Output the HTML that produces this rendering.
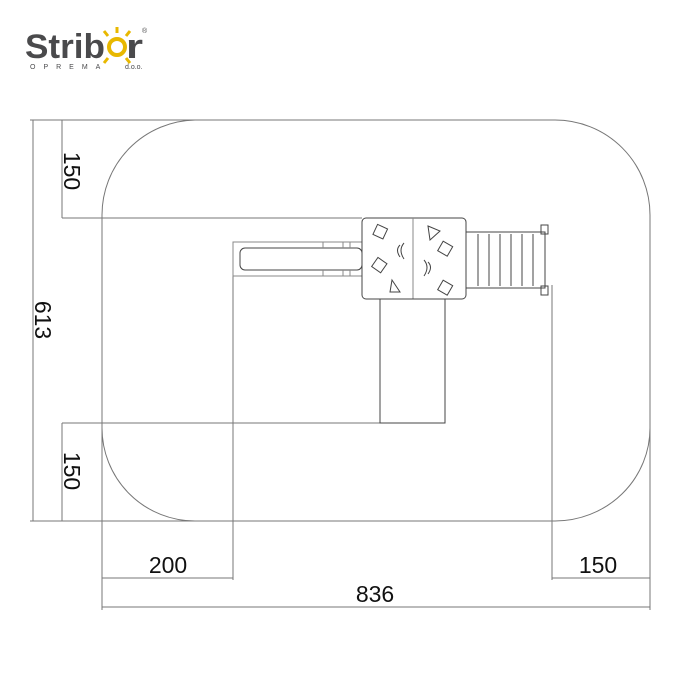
<!DOCTYPE html>
<html><head><meta charset="utf-8"><style>
html,body{margin:0;padding:0;background:#fff;}
svg{display:block;}
text{font-family:"Liberation Sans",sans-serif;}
</style></head><body>
<svg width="679" height="679" viewBox="0 0 679 679" xmlns="http://www.w3.org/2000/svg">
<!-- logo -->
<text x="25" y="58" font-size="34" font-weight="bold" fill="#4a4a4c" textLength="80" lengthAdjust="spacingAndGlyphs">Strib</text>
<circle cx="117" cy="47" r="8" fill="none" stroke="#e8b800" stroke-width="4"/>
<g stroke="#e8b800" stroke-width="3">
<line x1="117" y1="33" x2="117" y2="27"/><line x1="126" y1="36" x2="130" y2="31"/><line x1="108" y1="36" x2="104" y2="31"/>
<line x1="126" y1="58" x2="130" y2="63"/><line x1="108" y1="58" x2="104" y2="63"/>
</g>
<text x="126" y="58" font-size="34" font-weight="bold" fill="#4a4a4c" textLength="17" lengthAdjust="spacingAndGlyphs">r</text>
<text x="142" y="33" font-size="7" fill="#4a4a4c">®</text>
<text x="30" y="69" font-size="7" fill="#4a4a4c" letter-spacing="8">OPREMA</text>
<text x="125" y="69" font-size="7" fill="#4a4a4c">d.o.o.</text>

<g fill="none" stroke="#777" stroke-width="1">
<path d="M195 120 H555 A95 95 0 0 1 650 215 V428 A95 93 0 0 1 555 521 H195 A93 93 0 0 1 102 428 V215 A95 95 0 0 1 195 120 Z"/>
<line x1="30" y1="120" x2="195" y2="120"/>
<line x1="30" y1="521" x2="195" y2="521"/>
<line x1="33" y1="120" x2="33" y2="521"/>
<line x1="62" y1="120" x2="62" y2="218"/>
<line x1="62" y1="218" x2="362" y2="218"/>
<line x1="62" y1="423" x2="62" y2="521"/>
<line x1="62" y1="423" x2="380" y2="423"/>
<line x1="102" y1="400" x2="102" y2="610"/>
<line x1="233" y1="242" x2="233" y2="580"/>
<line x1="552" y1="285" x2="552" y2="580"/>
<line x1="650" y1="400" x2="650" y2="610"/>
<line x1="102" y1="578" x2="233" y2="578"/>
<line x1="552" y1="578" x2="650" y2="578"/>
<line x1="102" y1="607" x2="650" y2="607"/>
</g>
<g font-size="23" fill="#111">
<text x="168" y="573" text-anchor="middle">200</text>
<text x="598" y="573" text-anchor="middle">150</text>
<text x="375" y="602" text-anchor="middle">836</text>
<text transform="translate(64,171) rotate(90)" text-anchor="middle">150</text>
<text transform="translate(35,320) rotate(90)" text-anchor="middle">613</text>
<text transform="translate(64,471) rotate(90)" text-anchor="middle">150</text>
</g>

<g fill="none" stroke="#444" stroke-width="1">
<rect x="233" y="242" width="129" height="34" stroke="#888"/>
<rect x="240" y="248" width="122" height="22" rx="5"/>
<path d="M323 242 v6 M343 242 v6 M350 242 v6 M323 270 v6 M343 270 v6 M350 270 v6" stroke="#888"/>
<rect x="362" y="218" width="104" height="81" rx="4"/>
<line x1="413" y1="218" x2="413" y2="299" stroke="#888"/>
<rect x="380" y="299" width="65" height="124"/>
<rect x="466" y="232" width="79" height="56"/>
<line x1="478" y1="234" x2="478" y2="286"/><line x1="489" y1="234" x2="489" y2="286"/>
<line x1="500" y1="234" x2="500" y2="286"/><line x1="511" y1="234" x2="511" y2="286"/>
<line x1="522" y1="234" x2="522" y2="286"/><line x1="533" y1="234" x2="533" y2="286"/>
<rect x="541" y="225" width="7" height="9"/><rect x="541" y="286" width="7" height="9"/>
<rect x="375" y="226" width="11" height="11" transform="rotate(25 380 231)"/>
<rect x="374" y="260" width="11" height="11" transform="rotate(35 380 265)"/>
<path d="M392 280 L400 292 L390 292 Z"/>
<path d="M428 226 L440 231 L430 240 Z"/>
<rect x="440" y="243" width="11" height="11" transform="rotate(30 445 248)"/>
<rect x="440" y="282" width="11" height="11" transform="rotate(30 445 287)"/>
<path d="M400 245 q-5 5 0 12 M404 243 q-6 7 0 16"/>
<path d="M428 262 q5 5 0 12 M424 260 q6 7 0 16"/>
</g>
</svg>
</body></html>
